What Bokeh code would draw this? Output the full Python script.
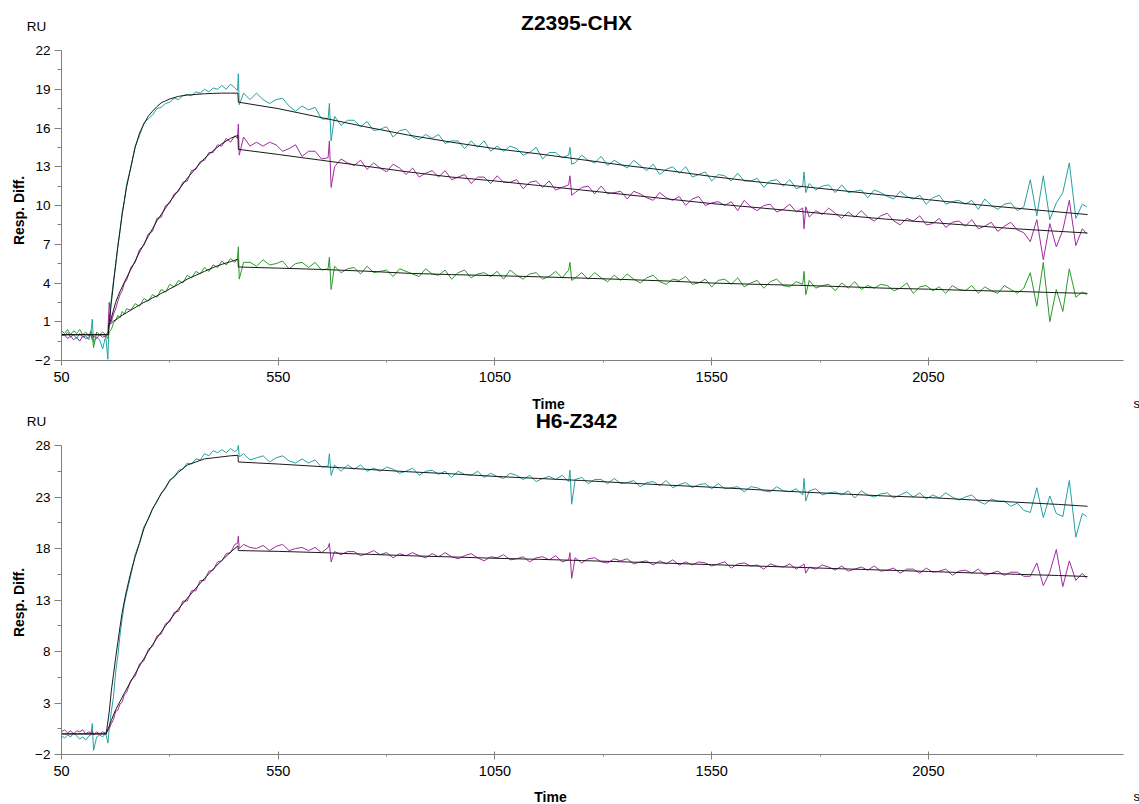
import math
from bokeh.plotting import figure
from bokeh.models import Range1d, FixedTicker, Label
from bokeh.layouts import column
from bokeh.embed import file_html
from bokeh.resources import INLINE

# ---------------- time grids (s) ----------------
T_BASE = [50, 57, 64, 71, 78, 85, 92, 99, 106, 113, 118, 121, 124, 131, 138, 145, 152, 157]
T_ASSOC = [160, 165, 170, 175, 180, 185, 190, 195, 200,
           210, 220, 230, 240, 250, 260, 270, 280, 290, 300,
           310, 320, 330, 340, 350, 360, 370, 380, 390, 400,
           410, 420, 430, 440, 450, 456]
T_TRANS = [458, 460]
T_DISS = [470, 485, 500, 515, 530, 545, 560, 575, 590, 605, 620, 635, 650, 665,
          668, 672,
          680, 695, 710, 725, 740, 755, 770, 785, 800, 815, 830, 845, 860, 875, 890, 905, 920, 935, 950, 965,
          980, 995, 1010, 1025, 1040, 1055, 1070, 1085, 1100, 1115, 1130, 1145, 1160, 1175, 1190, 1205, 1220,
          1223, 1227,
          1235, 1250, 1265, 1280, 1295, 1310, 1325, 1340, 1355, 1370, 1385, 1400, 1415, 1430, 1445, 1460, 1475, 1490,
          1505, 1520, 1535, 1550, 1565, 1580, 1595, 1610, 1625, 1640, 1655, 1670, 1685, 1700, 1715, 1730, 1745, 1760,
          1763, 1767,
          1775, 1790, 1805, 1820, 1835, 1850, 1865, 1880, 1895, 1910, 1925, 1940, 1955, 1970, 1985, 2000, 2015, 2030,
          2045, 2060, 2075, 2090, 2105, 2120, 2135, 2150, 2165, 2180, 2195, 2210, 2225, 2240, 2255, 2270, 2285, 2300,
          2315, 2330, 2345, 2360, 2375, 2390, 2405,
          2415]
T_OBS = T_BASE + T_ASSOC + T_TRANS + T_DISS

# ---------------- Z2395-CHX (top) measured responses (RU) ----------------
top_cyan = ([0.1, -0.1, 0.2, -0.2, 0.0, -0.3, 0.1, -0.2, -0.1, -0.4, 0.2, 1.2, -0.6, -0.2, -0.4, -1.1, -0.1, -1.9]
            + [1.2, 2.8, 4.2, 5.3, 6.9, 8.0, 9.5, 10.3, 11.6,
               12.9, 14.6, 15.4, 16.4, 16.7, 17.0, 17.5, 17.6, 17.9, 18.0,
               18.3, 18.2, 18.5, 18.6, 18.5, 18.8, 18.7, 19.0, 18.8, 19.1,
               19.0, 19.3, 19.0, 19.4, 19.1, 18.9]
            + [20.2, 17.8]
            + [18.7, 18.2, 18.7, 18.2, 17.9, 18.2, 18.3, 17.7, 17.3, 17.7, 17.4, 17.6, 16.7, 16.7,
               17.9, 15.0,
               16.9, 16.2, 16.6, 16.6, 16.1, 16.5, 15.8, 15.9, 16.1, 15.3, 15.8, 15.9, 15.3, 15.1, 15.5, 15.2, 15.5,
               14.8, 15.0, 15.0, 14.4, 15.0, 14.5, 15.0, 14.2, 14.6, 14.2, 14.6, 14.4, 13.9, 14.1, 14.5, 13.6, 14.1,
               14.1, 13.7, 13.9,
               14.5, 13.2,
               13.3, 13.9, 13.5, 13.3, 13.8, 13.1, 13.5, 13.2, 12.9, 13.5, 13.1, 12.7, 13.2, 12.4, 12.8, 13.0, 12.5,
               13.0, 12.2, 12.4, 12.6, 11.9, 12.4, 12.3, 11.9, 12.5, 11.9, 11.9, 12.1, 11.4, 11.9, 12.0, 11.5, 12.0,
               11.3, 11.5,
               12.6, 11.0,
               11.7, 11.2, 11.5, 11.6, 11.0, 11.6, 11.0, 11.1, 11.2, 10.6, 11.2, 11.0, 10.7, 10.5, 11.1, 10.7, 10.5,
               10.8, 10.1, 10.6, 10.8, 10.1, 10.3, 10.4, 10.1, 10.4, 9.7, 10.5, 10.0, 9.7, 10.1, 10.2, 9.6, 9.9,
               12.0, 9.2, 12.3, 8.9, 10.2, 11.0, 13.3, 9.0, 10.1,
               9.9])
top_magenta = ([-0.1, 0.0, -0.3, -0.1, -0.4, -0.2, -0.5, -0.1, -0.3, -0.2, 0.0, -0.4, -0.1, -0.3, 0.0, -0.2, -0.1, 0.2]
               + [2.5, 1.0, 1.6, 2.0, 2.6, 3.1, 3.4, 4.0, 4.2,
                  5.2, 5.6, 6.6, 6.9, 7.8, 8.0, 9.0, 9.1, 10.0, 10.2,
                  10.9, 11.1, 11.8, 11.9, 12.7, 12.8, 13.4, 13.5, 14.1, 14.1,
                  14.7, 14.6, 15.2, 14.9, 15.4, 15.2]
               + [16.3, 13.9]
               + [15.3, 14.6, 14.9, 14.6, 14.9, 14.7, 14.2, 14.4, 14.7, 13.8, 14.2, 14.2, 13.6, 13.7,
                  15.0, 11.4,
                  13.0, 13.6, 13.3, 13.1, 13.5, 12.8, 13.3, 12.9, 12.6, 13.2, 12.9, 12.4, 12.9, 12.2, 12.5, 12.7, 12.2,
                  12.7, 12.0, 12.2, 12.4, 11.7, 12.2, 12.2, 11.7, 12.3, 11.8, 11.8, 12.0, 11.3, 11.8, 11.9, 11.4, 11.9,
                  11.2, 11.4, 11.6,
                  12.3, 10.8,
                  11.0, 11.4, 11.5, 10.9, 11.5, 10.9, 11.0, 11.1, 10.5, 11.1, 10.9, 10.6, 10.4, 11.0, 10.6, 10.4, 10.7,
                  10.0, 10.5, 10.7, 10.0, 10.2, 10.3, 10.0, 10.3, 9.6, 10.4, 9.9, 9.6, 10.0, 10.1, 9.5, 9.7, 10.1,
                  9.5, 9.8,
                  8.2, 9.9,
                  9.1, 9.6, 9.3, 9.8, 9.4, 9.0, 9.5, 9.1, 9.6, 9.1, 8.8, 9.2, 9.4, 8.8, 8.5, 9.0, 8.8, 9.2, 8.5, 8.6,
                  9.0, 8.3, 8.7, 8.8, 8.4, 8.9, 8.2, 8.4, 8.7, 8.0, 8.4, 8.7, 8.1, 7.9,
                  7.2, 8.9, 5.8, 8.6, 6.8, 8.1, 10.4, 6.9, 8.2,
                  7.8])
top_green = ([0.3, 0.1, 0.4, 0.0, 0.3, 0.1, 0.4, 0.0, 0.2, -0.1, 0.3, 0.0, -1.0, 0.2, 0.0, 0.2, 0.0, -0.3]
             + [0.2, 0.4, 0.9, 1.1, 1.5, 1.3, 1.8, 1.6, 2.0,
                1.9, 2.4, 2.2, 2.8, 2.6, 3.1, 2.9, 3.5, 3.3, 3.9,
                3.7, 4.2, 4.0, 4.6, 4.4, 4.9, 4.7, 5.2, 4.9, 5.4,
                5.2, 5.7, 5.4, 5.9, 5.6, 5.9]
             + [6.8, 4.3]
             + [5.6, 5.6, 5.3, 5.8, 5.4, 5.5, 5.7, 5.1, 5.5, 5.6, 5.2, 5.6, 5.0, 5.1,
                6.0, 3.5,
                5.3, 4.8, 5.1, 5.2, 4.7, 5.3, 4.8, 4.9, 5.0, 4.5, 5.1, 4.9, 4.7, 4.5, 5.1, 4.7, 4.6, 5.0, 4.3, 4.8,
                5.0, 4.4, 4.7, 4.8, 4.5, 4.9, 4.3, 5.0, 4.6, 4.3, 4.7, 4.8, 4.3, 4.5, 4.9, 4.4, 5.0,
                5.6, 4.2,
                4.4, 4.8, 4.3, 4.8, 4.4, 4.1, 4.6, 4.2, 4.7, 4.3, 4.0, 4.4, 4.6, 4.1, 3.9, 4.3, 4.2, 4.5, 3.9, 4.0,
                4.3, 3.7, 4.2, 4.3, 3.9, 4.4, 3.7, 4.0, 4.2, 3.6, 4.1, 4.3, 3.8, 3.7, 4.1, 3.9,
                4.9, 3.1,
                4.2, 3.6, 3.8, 3.9, 3.4, 4.0, 3.6, 4.1, 3.5, 3.8, 3.6, 3.9, 3.8, 3.4, 3.6, 4.0, 3.2, 3.7, 3.8, 3.4,
                3.7, 3.2, 3.8, 3.5, 3.4, 3.8, 3.2, 3.7, 3.4, 3.2, 3.8, 3.5, 3.2, 3.6,
                4.8, 2.2, 5.6, 1.0, 3.5, 1.8, 5.1, 2.9, 3.3,
                3.1])

# ---------------- H6-Z342 (bottom) measured responses (RU) ----------------
bot_cyan = ([-0.2, -0.4, -0.1, -0.3, 0.1, -0.2, -0.5, -0.3, -0.6, -0.2, -0.1, 1.0, -1.6, -0.3, -0.1, -0.3, 0.1, -0.9]
            + [0.5, 2.2, 3.6, 6.0, 7.6, 9.6, 11.2, 12.6, 13.6,
               15.4, 17.4, 18.6, 20.1, 20.8, 21.9, 22.5, 23.4, 23.8, 24.7,
               24.9, 25.6, 25.7, 26.3, 26.2, 26.7, 26.6, 27.2, 27.0, 27.5,
               27.3, 27.6, 27.3, 27.7, 27.4, 27.6]
            + [28.0, 26.9]
            + [27.2, 26.6, 26.8, 27.0, 26.4, 26.8, 27.0, 26.5, 26.3, 26.7, 26.3, 26.6, 25.9, 26.0,
               27.2, 25.1,
               26.1, 25.5, 26.1, 25.7, 26.1, 25.5, 25.8, 25.5, 25.9, 25.7, 25.3, 25.5, 25.8, 25.1, 25.5, 25.6, 25.2,
               25.5, 24.9, 25.5, 25.2, 25.1, 25.5, 24.9, 25.3, 25.0, 24.8, 25.3, 25.1, 24.7, 25.1, 24.5, 24.8, 25.0,
               24.7, 25.1, 24.5,
               25.6, 22.3,
               24.7, 24.9, 24.3, 24.7, 24.7, 24.3, 24.8, 24.3, 24.4, 24.6, 24.0, 24.4, 24.5, 24.1, 24.6, 23.9, 24.2,
               24.4, 23.9, 24.2, 24.3, 23.8, 24.3, 23.8, 23.9, 24.0, 23.5, 24.0, 23.9, 23.6, 23.5, 24.0, 23.6, 23.5,
               23.8, 23.2,
               24.8, 22.6,
               23.6, 23.8, 23.2, 23.4, 23.5, 23.2, 23.6, 22.9, 23.6, 23.2, 23.0, 23.3, 23.4, 22.9, 23.2, 23.5, 23.0,
               23.4, 22.8, 23.2, 22.9, 23.4, 23.0, 22.7, 23.0, 23.2, 22.6, 22.3, 22.8, 22.6, 22.6, 22.1, 22.4, 21.7,
               21.5, 23.9, 21.0, 23.1, 21.4, 21.1, 24.6, 19.1, 21.4,
               21.1])
bot_magenta = ([0.2, 0.4, 0.1, 0.3, 0.0, 0.3, 0.2, 0.4, 0.0, 0.2, 0.1, 0.3, -0.1, 0.2, 0.0, 0.2, 0.1, 0.3]
               + [0.5, 1.0, 1.4, 2.2, 2.3, 2.9, 3.1, 3.8, 4.0,
                  5.2, 5.6, 6.8, 7.1, 8.2, 8.5, 9.5, 9.7, 10.7, 10.9,
                  11.8, 11.9, 12.9, 12.9, 13.9, 13.9, 14.9, 14.9, 15.8, 15.9,
                  16.7, 16.8, 17.5, 17.6, 18.4, 18.5]
               + [19.2, 18.0]
               + [18.4, 18.1, 18.0, 18.3, 17.8, 18.2, 18.4, 17.8, 18.0, 18.1, 17.8, 18.1, 17.6, 18.1,
                  18.5, 16.7,
                  17.7, 17.4, 17.7, 17.7, 17.3, 17.5, 17.8, 17.4, 17.6, 17.1, 17.5, 17.3, 17.6, 17.3, 17.1, 17.5, 17.2,
                  17.6, 17.2, 17.0, 17.3, 17.5, 17.1, 16.8, 17.2, 17.1, 17.4, 16.9, 17.0, 17.2, 16.7, 17.1, 17.2, 16.9,
                  17.3, 16.7, 16.9,
                  17.6, 15.1,
                  17.1, 16.6, 17.0, 17.1, 16.7, 16.6, 17.0, 16.8, 17.0, 16.5, 16.7, 16.8, 16.4, 16.8, 16.5, 16.9, 16.4,
                  16.7, 16.4, 16.7, 16.6, 16.3, 16.5, 16.7, 16.1, 16.5, 16.6, 16.3, 16.4, 16.0, 16.5, 16.3, 16.2, 16.5,
                  16.0, 16.4,
                  16.5, 15.6,
                  16.2, 16.0, 16.4, 16.2, 15.9, 16.3, 15.8, 16.0, 16.2, 15.9, 16.3, 15.8, 15.9, 16.1, 15.6, 16.0, 16.0,
                  15.6, 16.1, 15.7, 15.8, 16.0, 15.4, 15.8, 15.9, 15.6, 16.0, 15.4, 15.6, 15.8, 15.4, 15.7, 15.7, 15.3,
                  15.3, 16.6, 14.4, 15.7, 17.9, 14.3, 16.8, 14.9, 15.6,
                  15.1])

# ---------------- fitted curves ----------------
FIT_T_TOP = [50, 158, 159, 165, 170, 175, 180, 185, 190, 195, 200, 210, 220, 230, 240, 250, 260, 270, 280, 290,
             300, 320, 340, 360, 380, 400, 420, 440, 457,
             458, 550, 650, 750, 850, 950, 1050, 1150, 1250, 1350, 1450, 1550, 1650, 1750, 1850, 1950, 2050,
             2150, 2250, 2350, 2417]
fit_top_cyan = [0.0, 0.0, 0.6, 2.5, 4.0, 5.5, 6.8, 8.1, 9.3, 10.4, 11.4, 13.0, 14.5, 15.6, 16.3, 16.9, 17.3, 17.65,
                17.95, 18.1, 18.25, 18.45, 18.55, 18.6, 18.65, 18.68, 18.7, 18.7, 18.7,
                18.0, 17.5, 16.8, 16.1, 15.45, 14.9, 14.4, 14.0, 13.55, 13.1, 12.7, 12.25, 11.85, 11.5, 11.15,
                10.8, 10.45, 10.1, 9.8, 9.5, 9.3]
fit_top_magenta = [0.0, 0.0, 0.6, 1.3, 1.9, 2.5, 2.95, 3.35, 3.7, 4.05, 4.4, 5.05, 5.7, 6.4, 7.0, 7.6, 8.2, 8.8,
                   9.3, 9.8, 10.3, 11.2, 12.1, 12.9, 13.65, 14.25, 14.78, 15.2, 15.43,
                   14.35, 13.95, 13.5, 13.05, 12.6, 12.2, 11.9, 11.55, 11.2, 10.85, 10.5, 10.15, 9.85, 9.55, 9.25,
                   8.95, 8.7, 8.45, 8.2, 8.0, 7.87]
fit_top_green = [0.0, 0.0, 0.75, 0.9, 1.05, 1.15, 1.25, 1.4, 1.5, 1.6, 1.7, 1.9, 2.1, 2.3, 2.5, 2.65, 2.85, 3.0,
                 3.2, 3.35, 3.55, 3.9, 4.3, 4.6, 4.9, 5.2, 5.45, 5.65, 5.84,
                 5.24, 5.15, 5.05, 4.92, 4.75, 4.65, 4.57, 4.48, 4.38, 4.27, 4.15, 4.0, 3.9, 3.82, 3.72,
                 3.6, 3.52, 3.42, 3.35, 3.25, 3.2]

FIT_T_BOT = [50, 153, 160, 165, 170, 175, 180, 185, 190, 195, 200, 210, 220, 230, 240, 250, 260, 270, 280, 290,
             300, 320, 340, 360, 380, 400, 420, 440, 457,
             458, 550, 650, 750, 850, 950, 1050, 1150, 1250, 1350, 1450, 1550, 1650, 1750, 1850, 1950, 2050,
             2150, 2250, 2350, 2417]
fit_bot_cyan = [0.0, 0.0, 2.1, 4.2, 5.8, 7.4, 8.9, 10.4, 11.8, 12.9, 13.9, 15.7, 17.2, 18.5, 19.9, 20.9, 21.8, 22.6,
                23.3, 23.95, 24.6, 25.4, 26.1, 26.4, 26.7, 26.8, 26.9, 27.0, 27.05,
                26.4, 26.2, 25.95, 25.7, 25.45, 25.25, 25.0, 24.8, 24.6, 24.37, 24.15, 23.95, 23.72, 23.5, 23.3,
                23.1, 22.95, 22.72, 22.5, 22.28, 22.1]
fit_bot_magenta = [0.0, 0.0, 0.76, 1.3, 1.85, 2.35, 2.75, 3.15, 3.55, 3.95, 4.35, 5.1, 5.85, 6.6, 7.3, 8.0, 8.65, 9.3,
                   9.9, 10.5, 11.05, 12.15, 13.15, 14.15, 15.1, 16.0, 16.85, 17.65, 18.25,
                   17.8, 17.72, 17.6, 17.45, 17.3, 17.18, 17.05, 16.95, 16.83, 16.7, 16.57, 16.43, 16.3, 16.17, 16.03,
                   15.9, 15.77, 15.63, 15.5, 15.38, 15.28]

# ---------------- axes ----------------
X_TICKS = [50, 550, 1050, 1550, 2050]
X_MINOR = [300, 800, 1300, 1800, 2300]
Y_TICKS_TOP = [-2, 1, 4, 7, 10, 13, 16, 19, 22]
Y_MINOR_TOP = [-0.5, 2.5, 5.5, 8.5, 11.5, 14.5, 17.5, 20.5]
Y_TICKS_BOT = [-2, 3, 8, 13, 18, 23, 28]
Y_MINOR_BOT = [0.5, 5.5, 10.5, 15.5, 20.5, 25.5]
TITLES = ["Z2395-CHX", "H6-Z342"]

for name, arr, tt in [("top_cyan", top_cyan, T_OBS), ("top_magenta", top_magenta, T_OBS),
                      ("top_green", top_green, T_OBS), ("bot_cyan", bot_cyan, T_OBS),
                      ("bot_magenta", bot_magenta, T_OBS),
                      ("fit_top_cyan", fit_top_cyan, FIT_T_TOP), ("fit_top_magenta", fit_top_magenta, FIT_T_TOP),
                      ("fit_top_green", fit_top_green, FIT_T_TOP), ("fit_bot_cyan", fit_bot_cyan, FIT_T_BOT),
                      ("fit_bot_magenta", fit_bot_magenta, FIT_T_BOT)]:
    assert len(arr) == len(tt), (name, len(arr), len(tt))

CYAN = "#26a0a0"
MAGENTA = "#a02ca0"
GREEN = "#2a9a2a"
FITC = "#1a1a1a"
AXC = "#808080"
FONT = "Liberation Sans"

# ---------------- layout geometry (canvas pixels) ----------------
W = 1139
H1, H2 = 410, 394
X_LO, X_HI = 50, 2500
PX_LO, PX_HI = 61, 1123          # canvas x of X_LO / X_HI


class Geo:
    def __init__(self, h, y_lo, y_hi, py_lo, py_hi):
        self.h = h
        self.kx = (PX_HI - PX_LO) / (X_HI - X_LO)
        self.ky = (py_lo - py_hi) / (y_hi - y_lo)
        self.x0 = X_LO - PX_LO / self.kx
        self.x1 = X_HI + (W - PX_HI) / self.kx
        self.y1 = y_hi + py_hi / self.ky
        self.y0 = y_lo - (h - py_lo) / self.ky

    def dx(self, px):
        return self.x0 + px / self.kx

    def dy(self, py):
        return self.y1 - py / self.ky


def make_fig(g, y_lo, y_hi, yt, ym):
    p = figure(width=W, height=g.h, output_backend="svg", toolbar_location=None,
               x_range=Range1d(g.x0, g.x1), y_range=Range1d(g.y0, g.y1), min_border=0)
    p.outline_line_color = None
    p.xgrid.visible = False
    p.ygrid.visible = False
    p.background_fill_color = "white"
    p.border_fill_color = "white"
    xa = p.xaxis[0]
    ya = p.yaxis[0]
    xa.fixed_location = y_lo
    ya.fixed_location = X_LO
    xa.bounds = (X_LO, X_HI)
    ya.bounds = (y_lo, y_hi)
    xa.ticker = FixedTicker(ticks=X_TICKS, minor_ticks=X_MINOR)
    ya.ticker = FixedTicker(ticks=yt, minor_ticks=ym)
    for ax in (xa, ya):
        ax.axis_line_color = AXC
        ax.major_tick_line_color = AXC
        ax.minor_tick_line_color = AXC
        ax.major_label_text_font = FONT
        ax.major_label_text_color = "black"
    xa.major_tick_in = 3
    xa.major_tick_out = 5
    xa.minor_tick_in = 0
    xa.minor_tick_out = 2
    ya.major_tick_in = 0
    ya.major_tick_out = 7
    ya.minor_tick_in = 0
    ya.minor_tick_out = 4
    xa.major_label_text_font_size = "14.5px"
    ya.major_label_text_font_size = "13.5px"
    xa.major_label_standoff = 6
    ya.major_label_standoff = 4
    return p


def add_label(p, g, text, px, py, size, bold=False, angle=0.0, align="center"):
    p.add_layout(Label(x=g.dx(px), y=g.dy(py), text=text, text_font=FONT, text_font_size=size,
                       text_font_style="bold" if bold else "normal", text_color="black",
                       text_align=align, text_baseline="middle", angle=angle))


g1 = Geo(H1, -2, 22, 360, 50)
g2 = Geo(H2, -2, 28, 344, 35)
p1 = make_fig(g1, -2, 22, Y_TICKS_TOP, Y_MINOR_TOP)
p2 = make_fig(g2, -2, 28, Y_TICKS_BOT, Y_MINOR_BOT)

p1.line(T_OBS, top_cyan, line_color=CYAN, line_width=1)
p1.line(T_OBS, top_magenta, line_color=MAGENTA, line_width=1)
p1.line(T_OBS, top_green, line_color=GREEN, line_width=1)
p1.line(FIT_T_TOP, fit_top_cyan, line_color=FITC, line_width=1)
p1.line(FIT_T_TOP, fit_top_magenta, line_color=FITC, line_width=1)
p1.line(FIT_T_TOP, fit_top_green, line_color=FITC, line_width=1)

p2.line(T_OBS, bot_cyan, line_color=CYAN, line_width=1)
p2.line(T_OBS, bot_magenta, line_color=MAGENTA, line_width=1)
p2.line(FIT_T_BOT, fit_bot_cyan, line_color=FITC, line_width=1)
p2.line(FIT_T_BOT, fit_bot_magenta, line_color=FITC, line_width=1)

add_label(p1, g1, TITLES[0], 576, 22, "21px", bold=True)
add_label(p1, g1, "RU", 36, 26, "13.5px")
add_label(p1, g1, "Resp. Diff.", 18, 210, "14px", bold=True, angle=math.pi / 2)
add_label(p1, g1, "Time", 548, 403, "14px", bold=True)
add_label(p1, g1, "s", 1133, 403, "13px", align="left")

add_label(p2, g2, TITLES[1], 576, 10, "21px", bold=True)
add_label(p2, g2, "RU", 36, 11, "13.5px")
add_label(p2, g2, "Resp. Diff.", 18, 192, "14px", bold=True, angle=math.pi / 2)
add_label(p2, g2, "Time", 550, 386, "14px", bold=True)
add_label(p2, g2, "s", 1133, 386, "13px", align="left")

layout = column(p1, p2)
open("out.html", "w").write(file_html(layout, INLINE))
